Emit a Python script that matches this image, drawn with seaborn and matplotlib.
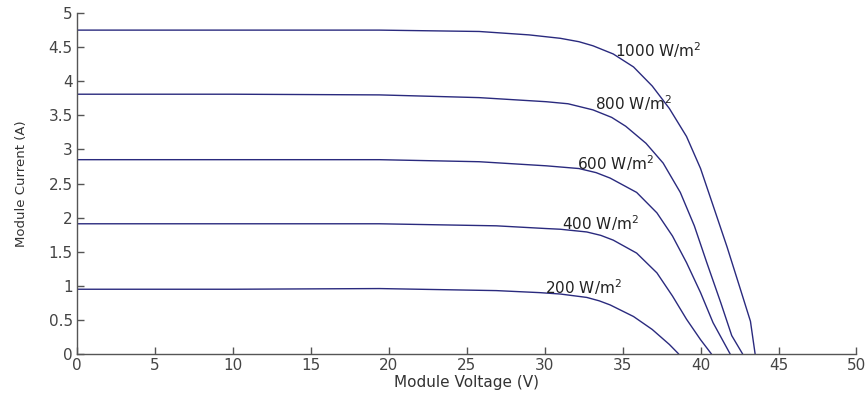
import pandas as pd
import matplotlib
matplotlib.use("Agg")
import matplotlib.pyplot as plt
import seaborn as sns

# I-V curves
v_1000 = [0, 10, 19.4, 25.8, 29.0, 31.0, 32.2, 33.1, 34.4, 35.7, 36.9, 38.0, 39.1, 40.0, 40.8, 41.7, 42.5, 43.2, 43.5]
i_1000 = [4.75, 4.75, 4.75, 4.73, 4.68, 4.63, 4.58, 4.52, 4.40, 4.21, 3.93, 3.60, 3.19, 2.72, 2.18, 1.57, 0.99, 0.48, 0.0]

v_800 = [0, 10, 19.4, 25.8, 30.1, 31.5, 33.1, 34.3, 35.2, 36.5, 37.6, 38.7, 39.6, 40.4, 41.3, 42.0, 42.7]
i_800 = [3.81, 3.81, 3.80, 3.76, 3.70, 3.67, 3.58, 3.47, 3.34, 3.09, 2.80, 2.37, 1.88, 1.34, 0.75, 0.27, 0.0]

v_600 = [0, 10, 19.4, 25.8, 30.1, 32.2, 33.3, 34.2, 35.9, 37.2, 38.2, 39.1, 40.0, 40.8, 41.9]
i_600 = [2.85, 2.85, 2.85, 2.82, 2.76, 2.72, 2.66, 2.58, 2.37, 2.07, 1.73, 1.34, 0.90, 0.46, 0.0]

v_400 = [0, 10, 19.4, 26.9, 30.1, 31.0, 32.7, 33.6, 34.4, 35.9, 37.2, 38.2, 39.1, 40.0, 40.7]
i_400 = [1.91, 1.91, 1.91, 1.88, 1.84, 1.83, 1.79, 1.74, 1.67, 1.48, 1.19, 0.85, 0.51, 0.21, 0.0]

v_200 = [0, 10, 19.4, 26.9, 29.7, 31.0, 32.7, 33.5, 34.2, 35.7, 36.9, 38.0, 38.6]
i_200 = [0.95, 0.95, 0.96, 0.93, 0.90, 0.88, 0.83, 0.78, 0.72, 0.55, 0.36, 0.14, 0.0]

irradiance = ["1000 W/m$^2$", "800 W/m$^2$", "600 W/m$^2$", "400 W/m$^2$", "200 W/m$^2$"]
label_v = [34.5, 33.2, 32.1, 31.1, 30.0]
label_i = [4.46, 3.68, 2.80, 1.92, 0.98]

xticks = [0, 5, 10, 15, 20, 25, 30, 35, 40, 45, 50]
yticks = [0, 0.5, 1, 1.5, 2, 2.5, 3, 3.5, 4, 4.5, 5]
ytick_labels = ["0", "0.5", "1", "1.5", "2", "2.5", "3", "3.5", "4", "4.5", "5"]

frames = []
for name, v, i in zip(irradiance,
                      [v_1000, v_800, v_600, v_400, v_200],
                      [i_1000, i_800, i_600, i_400, i_200]):
    frames.append(pd.DataFrame({"V": v, "I": i, "G": name}))
df = pd.concat(frames, ignore_index=True)

sns.set_style("ticks")
plt.rcParams["font.family"] = ["DejaVu Sans"]
plt.rcParams["mathtext.fontset"] = "dejavusans"
plt.rcParams["xtick.direction"] = "in"
plt.rcParams["ytick.direction"] = "in"

line_color = "#2a2a7e"
fig = plt.figure(figsize=(8.68, 3.96), dpi=100)
ax = fig.add_axes([0.0887, 0.106, 0.898, 0.861])

sns.lineplot(data=df, x="V", y="I", hue="G", sort=False, estimator=None,
             palette=[line_color] * 5, linewidth=1.0, legend=False, ax=ax)

for txt, x, y in zip(irradiance, label_v, label_i):
    ax.text(x, y, txt, fontsize=11, ha="left", va="center", color="#222222")

ax.set_xlim(0, 50)
ax.set_ylim(0, 5)
ax.set_xticks(xticks)
ax.set_yticks(yticks)
ax.set_xticklabels([str(t) for t in xticks], fontsize=11)
ax.set_yticklabels(ytick_labels, fontsize=11)
ax.tick_params(length=5, width=1, colors="#555555", labelcolor="#444444", pad=3)
ax.set_xlabel("Module Voltage (V)", fontsize=11, color="#333333", labelpad=1)
ax.set_ylabel("Module Current (A)", fontsize=9.5, color="#333333", labelpad=15)
for s in ["top", "right"]:
    ax.spines[s].set_visible(False)
for s in ["left", "bottom"]:
    ax.spines[s].set_color("#555555")
    ax.spines[s].set_linewidth(1.0)

fig.savefig("out.png", dpi=100, facecolor="white")
